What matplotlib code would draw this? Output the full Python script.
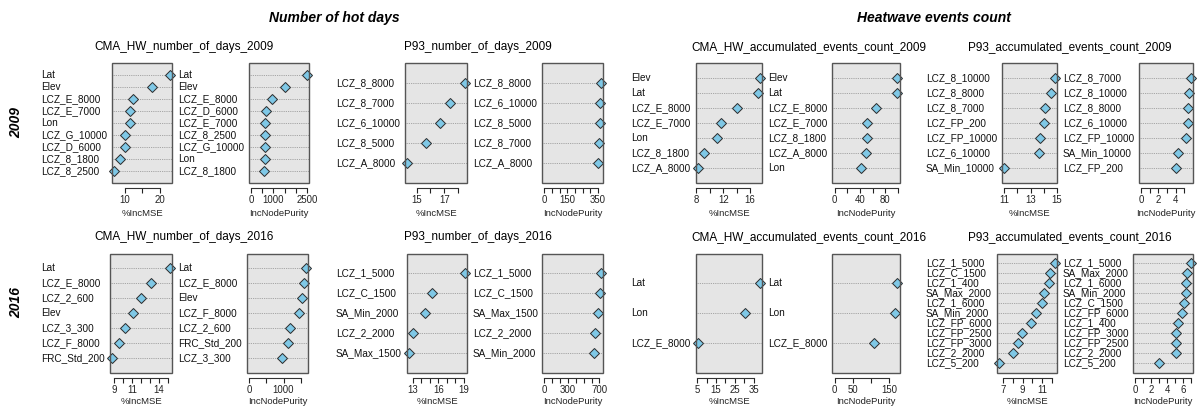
import numpy as np
import matplotlib
matplotlib.use('Agg')
import matplotlib.pyplot as plt
import matplotlib.transforms as mtrans
from matplotlib.patches import Rectangle

# ---- data: variable importance (%IncMSE / IncNodePurity) ----
# CMA_HW_number_of_days_2009
cma_days09_mse_vars = ['Lat', 'Elev', 'LCZ_E_8000', 'LCZ_E_7000', 'Lon', 'LCZ_G_10000', 'LCZ_D_6000', 'LCZ_8_1800', 'LCZ_8_2500']
cma_days09_mse = [22.9, 17.8, 12.3, 11.5, 11.3, 10.0, 9.9, 8.7, 6.9]
cma_days09_inp_vars = ['Lat', 'Elev', 'LCZ_E_8000', 'LCZ_D_6000', 'LCZ_E_7000', 'LCZ_8_2500', 'LCZ_G_10000', 'Lon', 'LCZ_8_1800']
cma_days09_inp = [2500, 1500, 930, 670, 640, 640, 635, 630, 580]

# P93_number_of_days_2009
p93_days09_mse_vars = ['LCZ_8_8000', 'LCZ_8_7000', 'LCZ_6_10000', 'LCZ_8_5000', 'LCZ_A_8000']
p93_days09_mse = [18.49, 17.39, 16.7, 15.68, 14.32]
p93_days09_inp_vars = ['LCZ_8_8000', 'LCZ_6_10000', 'LCZ_8_5000', 'LCZ_8_7000', 'LCZ_A_8000']
p93_days09_inp = [368, 366, 361, 357, 350]

# CMA_HW_accumulated_events_count_2009
cma_ev09_mse_vars = ['Elev', 'Lat', 'LCZ_E_8000', 'LCZ_E_7000', 'Lon', 'LCZ_8_1800', 'LCZ_A_8000']
cma_ev09_mse = [17.43, 17.2, 14.0, 11.7, 11.1, 9.2, 8.3]
cma_ev09_inp_vars = ['Elev', 'Lat', 'LCZ_E_8000', 'LCZ_E_7000', 'LCZ_8_1800', 'LCZ_A_8000', 'Lon']
cma_ev09_inp = [99, 97.5, 66, 51.5, 50.5, 49, 42]

# P93_accumulated_events_count_2009
p93_ev09_mse_vars = ['LCZ_8_10000', 'LCZ_8_8000', 'LCZ_8_7000', 'LCZ_FP_200', 'LCZ_FP_10000', 'LCZ_6_10000', 'SA_Min_10000']
p93_ev09_mse = [14.87, 14.6, 14.1, 14.0, 13.7, 13.66, 10.97]
p93_ev09_inp_vars = ['LCZ_8_7000', 'LCZ_8_10000', 'LCZ_8_8000', 'LCZ_6_10000', 'LCZ_FP_10000', 'SA_Min_10000', 'LCZ_FP_200']
p93_ev09_inp = [5.75, 5.5, 5.42, 5.42, 5.12, 4.21, 4.03]

# CMA_HW_number_of_days_2016
cma_days16_mse_vars = ['Lat', 'LCZ_E_8000', 'LCZ_2_600', 'Elev', 'LCZ_3_300', 'LCZ_F_8000', 'FRC_Std_200']
cma_days16_mse = [15.23, 13.15, 11.98, 11.08, 10.2, 9.53, 8.77]
cma_days16_inp_vars = ['Lat', 'LCZ_E_8000', 'Elev', 'LCZ_F_8000', 'LCZ_2_600', 'FRC_Std_200', 'LCZ_3_300']
cma_days16_inp = [1649, 1600, 1543, 1457, 1190, 1143, 952]

# P93_number_of_days_2016
p93_days16_mse_vars = ['LCZ_1_5000', 'LCZ_C_1500', 'SA_Min_2000', 'LCZ_2_2000', 'SA_Max_1500']
p93_days16_mse = [19.12, 15.3, 14.49, 13.08, 12.6]
p93_days16_inp_vars = ['LCZ_1_5000', 'LCZ_C_1500', 'SA_Max_1500', 'LCZ_2_2000', 'SA_Min_2000']
p93_days16_inp = [717, 704, 683, 639, 626]

# CMA_HW_accumulated_events_count_2016
cma_ev16_mse_vars = ['Lat', 'Lon', 'LCZ_E_8000']
cma_ev16_mse = [38.2, 30.2, 5.7]
cma_ev16_inp_vars = ['Lat', 'Lon', 'LCZ_E_8000']
cma_ev16_inp = [173.6, 167, 108.5]

# P93_accumulated_events_count_2016
p93_ev16_mse_vars = ['LCZ_1_5000', 'LCZ_C_1500', 'LCZ_1_400', 'SA_Max_2000', 'LCZ_1_6000', 'SA_Min_2000',
                     'LCZ_FP_6000', 'LCZ_FP_2500', 'LCZ_FP_3000', 'LCZ_2_2000', 'LCZ_5_200']
p93_ev16_mse = [12.31, 11.79, 11.76, 11.24, 10.97, 10.41, 9.86, 8.97, 8.48, 8.0, 6.59]
p93_ev16_inp_vars = ['LCZ_1_5000', 'SA_Max_2000', 'LCZ_1_6000', 'SA_Min_2000', 'LCZ_C_1500', 'LCZ_FP_6000',
                     'LCZ_1_400', 'LCZ_FP_3000', 'LCZ_FP_2500', 'LCZ_2_2000', 'LCZ_5_200']
p93_ev16_inp = [6.96, 6.5, 6.42, 6.33, 6.17, 5.8, 5.42, 5.17, 5.08, 5.08, 3.0]

# tick step and labelled ticks (R drops overlapping labels)
mse_steps = [5, 1, 2, 1, 1, 1, 5, 1]
mse_shown = [[10, 20], [15, 17], [8, 12, 16], [11, 13, 15], [9, 11, 14], [13, 16, 19], [5, 15, 25, 35], [7, 9, 11]]
inp_steps = [500, 50, 20, 1, 500, 100, 50, 1]
inp_shown = [[0, 1000, 2500], [0, 150, 350], [0, 40, 80], [0, 2, 4], [0, 1000], [0, 300, 700], [0, 50, 150], [0, 2, 4, 6]]

titles = ['CMA_HW_number_of_days_2009', 'P93_number_of_days_2009',
          'CMA_HW_accumulated_events_count_2009', 'P93_accumulated_events_count_2009',
          'CMA_HW_number_of_days_2016', 'P93_number_of_days_2016',
          'CMA_HW_accumulated_events_count_2016', 'P93_accumulated_events_count_2016']
mse_sets = [(cma_days09_mse_vars, cma_days09_mse), (p93_days09_mse_vars, p93_days09_mse),
            (cma_ev09_mse_vars, cma_ev09_mse), (p93_ev09_mse_vars, p93_ev09_mse),
            (cma_days16_mse_vars, cma_days16_mse), (p93_days16_mse_vars, p93_days16_mse),
            (cma_ev16_mse_vars, cma_ev16_mse), (p93_ev16_mse_vars, p93_ev16_mse)]
inp_sets = [(cma_days09_inp_vars, cma_days09_inp), (p93_days09_inp_vars, p93_days09_inp),
            (cma_ev09_inp_vars, cma_ev09_inp), (p93_ev09_inp_vars, p93_ev09_inp),
            (cma_days16_inp_vars, cma_days16_inp), (p93_days16_inp_vars, p93_days16_inp),
            (cma_ev16_inp_vars, cma_ev16_inp), (p93_ev16_inp_vars, p93_ev16_inp)]

# ---- layout (pixels) ----
W, H = 1203, 412
title_cx = [184, 478, 809, 1070]
label_x = [(41, 178), (336, 472.7), (631, 767.7), (926, 1062.7)]
box_x = [[(112, 172), (249, 309), (405, 467), (542, 603), (696, 762), (832, 900), (1002, 1057), (1139, 1193)],
         [(110, 172), (247, 308), (407, 467), (542, 603), (696, 762), (832, 900), (997, 1057), (1133, 1193)]]
row_top = [63, 253.5]
row_bot = [183, 373]
title_y = [47, 237]
xlab_y = [214, 402]

plt.rcParams['font.family'] = ['Liberation Sans', 'DejaVu Sans']
fig = plt.figure(figsize=(W / 100, H / 100), dpi=100)

face = '#7fc8e6'
bg = '#e5e5e5'


def tick_text(t, shown):
    # only the labels R actually kept
    if any(abs(t - s) < 1e-9 for s in shown):
        return '%g' % (round(t, 6) + 0.0)
    return ''


def dot_panel(box, top, bot, names, vals, from_zero, step, shown, lab_x, xlabel, xly):
    ax = fig.add_axes([box[0] / W, 1 - bot / H, (box[1] - box[0]) / W, (bot - top) / H])
    ax.set_facecolor(bg)
    n = len(names)
    lo = 0 if from_zero else min(vals)
    hi = max(vals)
    pad = 0.04 * (hi - lo)
    ax.set_xlim(lo - pad, hi + pad)
    ax.set_ylim(0, n + 1)
    ys = np.arange(n, 0, -1)
    for y in ys:
        ax.axhline(y, color='#8e8e8e', lw=0.6, ls=(0, (1, 1.2)), zorder=1)
    ax.plot(vals, ys, ls='none', marker='D', ms=4.7, mfc=face, mec='#2b2b2b', mew=0.7,
            zorder=3, clip_on=False)
    trans = mtrans.blended_transform_factory(fig.transFigure, ax.transData)
    for y, name in zip(ys, names):
        ax.text(lab_x / W, y, name, transform=trans, ha='left', va='center', fontsize=7.2, color='#111111')
    ticks = np.arange(np.ceil((lo - pad) / step) * step, hi + pad + 1e-9, step)
    ticks = np.where(np.abs(ticks) < 1e-9, 0.0, ticks)
    ax.set_xticks(ticks)
    ax.set_xticklabels([tick_text(t, shown) for t in ticks])
    ax.set_yticks([])
    for side in ['top', 'left', 'right']:
        ax.spines[side].set_visible(False)
    ax.spines['bottom'].set_position(('outward', 3.6))
    ax.spines['bottom'].set_bounds(ticks[0], ticks[-1])
    ax.spines['bottom'].set_color('#333333')
    ax.spines['bottom'].set_linewidth(0.8)
    ax.tick_params(axis='x', length=3.6, width=0.8, pad=1.5, labelsize=6.9, colors='#222222')
    ax.add_patch(Rectangle((0, 0), 1, 1, transform=ax.transAxes, fill=False, ec='#555555', lw=1.0,
                           zorder=5, clip_on=False))
    trans2 = mtrans.blended_transform_factory(ax.transAxes, fig.transFigure)
    ax.text(0.5, 1 - xly / H, xlabel, transform=trans2, ha='center', va='center', fontsize=6.8, color='#222222')
    return ax


for k in range(8):
    r, g = k // 4, k % 4
    fig.text(title_cx[g] / W, 1 - title_y[r] / H, titles[k], ha='center', va='center', fontsize=8.5)
    names, vals = mse_sets[k]
    dot_panel(box_x[r][2 * g], row_top[r], row_bot[r], names, vals, False, mse_steps[k], mse_shown[k],
              label_x[g][0], '%IncMSE', xlab_y[r])
    names, vals = inp_sets[k]
    dot_panel(box_x[r][2 * g + 1], row_top[r], row_bot[r], names, vals, True, inp_steps[k], inp_shown[k],
              label_x[g][1], 'IncNodePurity', xlab_y[r])

# headers and row labels
fig.text(334 / W, 1 - 18 / H, 'Number of hot days', ha='center', va='center', fontsize=10,
         fontweight='bold', fontstyle='italic')
fig.text(934 / W, 1 - 18 / H, 'Heatwave events count', ha='center', va='center', fontsize=10,
         fontweight='bold', fontstyle='italic')
fig.text(16 / W, 1 - 122 / H, '2009', rotation=90, ha='center', va='center', fontsize=10,
         fontweight='bold', fontstyle='italic')
fig.text(16 / W, 1 - 303 / H, '2016', rotation=90, ha='center', va='center', fontsize=10,
         fontweight='bold', fontstyle='italic')

fig.savefig('out.png', dpi=100)
